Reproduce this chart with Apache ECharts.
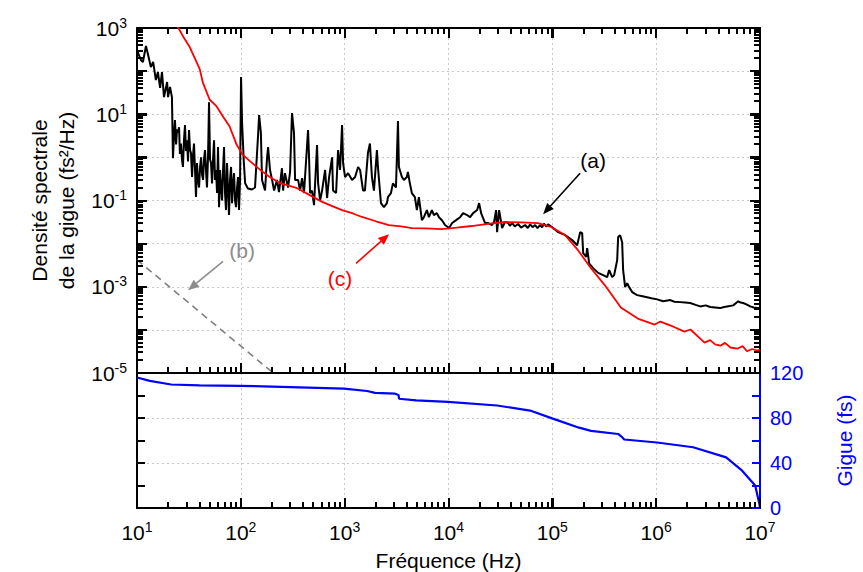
<!DOCTYPE html>
<html><head><meta charset="utf-8">
<script src="https://cdn.jsdelivr.net/npm/echarts@6/dist/echarts.min.js"></script>
<style>html,body{margin:0;padding:0;background:#fff}#c{width:863px;height:572px}</style>
</head><body><div id="c"></div>
<script>
// ---- data ----
const freqRange = [10, 1e7];
const psdRange = [1e-5, 1e3];
const jitterRange = [0, 120];

// (a) measured jitter PSD (black)
const psdMeasured = [
[10,309],[10.45,236],[10.9,181],[11.4,163],[12.2,382],[12.8,236],[13.6,124],[14.3,163],[15.2,62],[15.9,95],[16.7,41],[17.4,95],[18.2,25],[19.5,56],[19.9,25],[20.8,43],[21.7,25],
[22.2,0.96],[22.7,3.0],[23.2,7.3],[23.8,2.0],[24.3,4.5],[24.8,3.7],[25.4,5.0],[25.9,1.2],[26.5,2.1],[27.1,0.9],[27.7,0.6],[28.3,2.4],[29,5.6],[29.6,1.4],[30.3,2.5],[31,0.8],[31.7,4.3],[32.4,1.5],[33.1,1.26],[33.9,0.35],[34.6,1.1],[35.4,2.1],[36.2,0.5],[37,0.12],[37.8,0.74],[38.7,0.3],[39.6,0.2],[40.5,0.6],[41.4,1.0],[42.3,0.4],[43.3,0.3],[44.2,0.9],[45.2,1.48],[46.2,0.5],[47.2,0.2],[48.3,1.0],[49.4,19],[50.5,0.9],[51.6,0.74],[52.8,0.25],[54,0.9],[55.2,2.5],[56.4,0.3],[57.7,0.51],[59,0.15],[60.3,1.73],[61,0.4],[61.7,0.07],[63.1,0.51],[64.5,0.2],[65.9,0.1],[67.4,0.5],[68.9,1.73],[70.4,0.15],[72,0.06],[73.6,0.74],[75.2,0.2],[76.9,0.046],[78.7,0.3],[80.5,0.6],[82.3,0.087],[84.1,0.25],[86,0.43],[88,0.1],[89.9,0.07],[92,0.2],[94,0.35],[96.1,0.06],[98.3,0.3],
[100.5,73],[102.8,6.3],[107,0.74],[110,0.25],[117,0.19],[128,0.18],[137,0.2],[147,3.7],[150,9.6],[156,3.7],[160,0.3],[171,0.17],[179,1.0],[183,1.73],[191,0.51],[200,0.3],[209,0.17],[223,0.3],[233,0.157],[249,0.56],[255,0.17],[266,0.43],[285,0.2],[298,0.46],[311,10.7],[325,3.7],[333,0.3],[356,0.3],[372,0.17],[389,0.33],[406,0.149],[444,4.3],[454,1.0],[464,0.149],[485,0.17],[507,0.078],[542,1.93],[555,0.25],[580,0.1],[606,0.17],[648,0.51],[677,0.114],[708,0.35],[757,1.0],[773,0.17],[827,0.149],[864,1.48],[903,0.51],[944,5.6],[966,0.74],[1009,0.35],[1079,0.43],[1179,0.3],[1260,0.35],[1347,0.6],[1408,0.51],[1504,0.17],[1567,0.17],[1675,1.26],[1751,2.1],[1830,0.35],[1914,0.17],[2045,1.48],[2091,0.6],[2236,0.087],[2389,0.07],[2553,0.087],[2611,0.12],[2791,0.149],[2917,0.25],[3119,0.2],[3261,7.0],[3330,0.6],[3559,0.35],[3720,0.3],[3972,0.35],[4064,0.46],[4246,0.25],[4437,0.149],[4744,0.12],[4961,0.06],[5184,0.12],[5543,0.035],[5796,0.041],[6195,0.06],[6475,0.041],[6921,0.06],[7236,0.046],[7738,0.051],[8089,0.041],[8650,0.035],[9261,0.027],[10130,0.023],[10840,0.03],[11830,0.035],[12940,0.041],[13830,0.051],[15110,0.046],[16150,0.041],[17270,0.051],[18880,0.06],[19720,0.087],[20610,0.051],[21540,0.039],[22520,0.03],[24080,0.03],[26300,0.027],[27490,0.032],[28740,0.06],[29380,0.0185],[30710,0.06],[32830,0.023],[35100,0.032],[37530,0.03],[39000,0.026],[41020,0.03],[43500,0.025],[46800,0.0285],[50000,0.0235],[54700,0.027],[58000,0.023],[61100,0.028],[64500,0.024],[68300,0.027],[72000,0.023],[76000,0.027],[79800,0.024],[83000,0.029],[87100,0.025],[91000,0.028],[95300,0.026],[101800,0.023],[113800,0.0185],[132900,0.0157],[155200,0.0121],[173400,0.0092],[185400,0.0185],[193800,0.0175],[198200,0.006],[211800,0.0049],[216500,0.0079],[226200,0.0035],[247200,0.0027],[276100,0.0021],[308500,0.00186],[337300,0.00167],[352500,0.00243],[376800,0.00167],[393900,0.00186],[421100,0.0041],[430400,0.0142],[449800,0.0157],[470200,0.0108],[480700,0.00243],[502400,0.00098],[525400,0.00121],[549500,0.00098],[587500,0.00075],[620000,0.00069],[656400,0.00064],[720000,0.00061],[819000,0.00057],[900000,0.00054],[1.023e6,0.00051],[1.169e6,0.00046],[1.365e6,0.00049],[1.5e6,0.00045],[1.704e6,0.00044],[1.9e6,0.00043],[2.128e6,0.00042],[2.4e6,0.00038],[2.655e6,0.00035],[3.0e6,0.00037],[3.313e6,0.00034],[3.7e6,0.00033],[4.14e6,0.00032],[4.5e6,0.00034],[4.83e6,0.00035],[5.52e6,0.00037],[6.17e6,0.00046],[6.5e6,0.00043],[6.89e6,0.00042],[7.4e6,0.00039],[8.05e6,0.00035],[8.7e6,0.00033],[9.4e6,0.00032],[1e7,0.00032]
];

// (b) reference line (grey dashed)
const psdReference = [[10,4.2e-3],[205,1e-5]];

// (c) second PSD (red)
const psdSecond = [
[24.5,1100],[28,620],[32.2,361],[36,200],[40.2,111],[43,55],[50,22],[58.5,15.2],[68,8.5],[78,5.2],[91,1.98],[104,1.16],[120,0.85],[141,0.61],[165,0.45],[188,0.355],[235,0.257],[342,0.197],[456,0.135],[607,0.093],[780,0.072],[944,0.06],[1200,0.05],[1468,0.0415],[2000,0.033],[2667,0.027],[3500,0.025],[4430,0.023],[6000,0.0225],[8590,0.0218],[12000,0.0235],[16700,0.0256],[25000,0.029],[35300,0.0317],[50000,0.031],[73100,0.030],[97300,0.0243],[132700,0.0158],[176700,0.00705],[235500,0.00268],[321000,0.00108],[457000,3.3e-4],[665000,1.83e-4],[968000,1.33e-4],[1.1e6,1.56e-4],[1.38e6,1.26e-4],[1.87e6,9.1e-5],[2.14e6,1.02e-4],[2.92e6,5.06e-5],[3.3e6,5.8e-5],[3.7e6,4.6e-5],[4.15e6,4.3e-5],[4.6e6,5.0e-5],[5.2e6,3.9e-5],[6.04e6,3.66e-5],[6.8e6,4.2e-5],[7.5e6,3.2e-5],[8.4e6,3.6e-5],[9.4e6,3.3e-5],[1e7,3.5e-5]
];

// integrated jitter (blue)
const jitterIntegrated = [
[10,116],[13.3,113],[21.3,109.8],[40,109],[98,108.6],[300,107.5],[986,106.1],[1644,104],[1963,102.3],[3060,101.6],[3300,100.5],[3345,97.1],[4870,95.7],[9900,94.3],[29400,91.1],[61000,86.6],[99500,79.7],[181000,71.4],[236000,68.6],[430000,65.8],[470000,63],[492000,60.9],[1.02e6,58.2],[2.27e6,54.0],[4.72e6,45.0],[6.73e6,33.2],[8.99e6,20],[9.83e6,4.3],[1e7,0]
];

const annotations = [
  {text:'(a)', color:'#000000', at:[247000,0.865], from:[185000,0.43], to:[81500,0.048]},
  {text:'(b)', color:'#8c8c8c', at:[103,0.0071], from:[67.4,0.0039], to:[31,8.3e-4]},
  {text:'(c)', color:'#ff0000', at:[903,1.58e-3], from:[1288,3.5e-3], to:[2680,0.0166]}
];

// log-axis tick positions (1..9 x 10^n)
function logTicks(lo, hi){ const out=[]; for(let d=Math.round(Math.log10(lo)); d<=Math.round(Math.log10(hi)); d++) for(let k=1;k<10;k++){ const v=k*Math.pow(10,d); if(v>=lo*0.9999 && v<=hi*1.0001) out.push([v,k===1?1:0]); } return out; }
const freqTickValues = logTicks(freqRange[0], freqRange[1]);
const psdTickValues = logTicks(psdRange[0], psdRange[1]);

// ---- layout ----
const FONT = '"Liberation Sans", Arial, sans-serif';
const L = 137, R = 760, T0 = 28, B0 = 373, B1 = 515;
const W = R - L;
const MAJ = 10, MIN = 6, TW = 2;

const chart = echarts.init(document.getElementById('c'), null, {renderer:'svg'});

function expOf(v){ return Math.round(Math.log10(v)); }
const sciRich = {
  b:{fontSize:21, fontFamily:FONT, color:'#000'},
  s:{fontSize:14, fontFamily:FONT, color:'#000', padding:[0,0,11,0]}
};
const dotted = {show:true, lineStyle:{color:'#c8c8c8', type:[2,3], width:1}};
const blackLine = {show:true, lineStyle:{color:'#000', width:2}};
const tickIn = {show:true, inside:true, length:MAJ, lineStyle:{color:'#000', width:2}};

function xTickRender(sides){
  return function(params, api){
    const cs = params.coordSys;
    const px = Math.round(api.coord([api.value(0), api.value(2)])[0]);
    const len = api.value(1) ? MAJ : MIN;
    const ch = [];
    if (sides.indexOf('b')>=0) ch.push({type:'rect', shape:{x:px-TW/2, y:cs.y+cs.height-len, width:TW, height:len}, style:{fill:'#000'}});
    if (sides.indexOf('t')>=0) ch.push({type:'rect', shape:{x:px-TW/2, y:cs.y, width:TW, height:len}, style:{fill:'#000'}});
    return {type:'group', children:ch};
  };
}
function yTickRender(params, api){
  const cs = params.coordSys;
  const py = Math.round(api.coord([api.value(2), api.value(0)])[1]);
  const len = api.value(1) ? MAJ : MIN;
  return {type:'group', children:[
    {type:'rect', shape:{x:cs.x, y:py-TW/2, width:len, height:TW}, style:{fill:'#000'}},
    {type:'rect', shape:{x:cs.x+cs.width-len, y:py-TW/2, width:len, height:TW}, style:{fill:'#000'}}
  ]};
}

const option = {
  animation:false,
  backgroundColor:'#fff',
  grid:[
    {left:L, top:T0, width:W, height:B0-T0},
    {left:L, top:B0, width:W, height:B1-B0}
  ],
  xAxis:[
    {gridIndex:0, type:'log', logBase:10, min:freqRange[0], max:freqRange[1], splitNumber:6, position:'bottom',
     axisLine:blackLine, axisTick:tickIn, axisLabel:{show:false}, splitLine:dotted},
    {gridIndex:0, type:'log', logBase:10, min:freqRange[0], max:freqRange[1], splitNumber:6, position:'top',
     axisLine:blackLine, axisTick:tickIn, axisLabel:{show:false}, splitLine:{show:false}},
    {gridIndex:1, type:'log', logBase:10, min:freqRange[0], max:freqRange[1], splitNumber:6, position:'bottom',
     axisLine:blackLine, axisTick:tickIn, splitLine:dotted,
     axisLabel:{show:true, margin:12, formatter:v=>'{b|10}{s|'+expOf(v)+'}', rich:sciRich},
     name:'Fréquence (Hz)', nameLocation:'middle', nameGap:42,
     nameTextStyle:{fontSize:21, fontFamily:FONT, color:'#000'}}
  ],
  yAxis:[
    {gridIndex:0, type:'log', logBase:10, min:psdRange[0], max:psdRange[1], splitNumber:8, position:'left',
     axisLine:blackLine, axisTick:tickIn, splitLine:dotted,
     axisLabel:{show:true, margin:10, formatter:v=>{const e=expOf(v); return Math.abs(e)%2===1 ? '{b|10}{s|'+e+'}' : '';}, rich:sciRich},
     name:'Densité spectrale\nde la gigue (fs²/Hz)', nameLocation:'middle', nameGap:50, nameRotate:90,
     nameTextStyle:{fontSize:21, fontFamily:FONT, color:'#000', lineHeight:27}},
    {gridIndex:0, type:'log', logBase:10, min:psdRange[0], max:psdRange[1], splitNumber:8, position:'right',
     axisLine:blackLine, axisTick:tickIn, axisLabel:{show:false}, splitLine:{show:false}},
    {gridIndex:1, type:'value', min:jitterRange[0], max:jitterRange[1], interval:20, position:'left',
     axisLine:blackLine, axisTick:{show:true, inside:true, length:8, lineStyle:{color:'#000', width:2}},
     axisLabel:{show:false}, splitLine:{show:false}},
    {gridIndex:1, type:'value', min:jitterRange[0], max:jitterRange[1], interval:20, position:'right',
     axisLine:{show:true, lineStyle:{color:'#0000ff', width:2}},
     axisTick:{show:true, inside:true, length:8, lineStyle:{color:'#0000ff', width:2}},
     axisLabel:{show:true, margin:10, fontSize:20, fontFamily:FONT, color:'#0000ff', formatter:v=> v%40===0 ? String(v) : ''},
     splitLine:{show:false},
     name:'Gigue (fs)', nameLocation:'middle', nameGap:74, nameRotate:90,
     nameTextStyle:{fontSize:21, fontFamily:FONT, color:'#0000ff'}},
    {gridIndex:1, type:'value', min:jitterRange[0], max:jitterRange[1], interval:40, position:'left',
     axisLine:{show:false}, axisTick:{show:false}, axisLabel:{show:false}, splitLine:dotted}
  ],
  series:[
    {name:'(b)', type:'line', xAxisIndex:0, yAxisIndex:0, data:psdReference, showSymbol:false, symbol:'none',
     lineStyle:{color:'#808080', width:1.6, type:[7,5]}, z:2},
    {name:'(a)', type:'line', xAxisIndex:0, yAxisIndex:0, data:psdMeasured, showSymbol:false, symbol:'none',
     lineStyle:{color:'#000', width:2}, z:3},
    {name:'(c)', type:'line', xAxisIndex:0, yAxisIndex:0, data:psdSecond, showSymbol:false, symbol:'none',
     lineStyle:{color:'#ff0000', width:1.8}, z:4},
    {name:'Gigue', type:'line', xAxisIndex:2, yAxisIndex:3, data:jitterIntegrated, showSymbol:false, symbol:'none',
     lineStyle:{color:'#0000ff', width:2.2}, z:3},
    // axis tick marks (decoration)
    {type:'custom', xAxisIndex:0, yAxisIndex:0, silent:true, z:10, clip:false,
     data:freqTickValues.map(t=>[t[0], t[1], 1]), renderItem:xTickRender('bt')},
    {type:'custom', xAxisIndex:0, yAxisIndex:0, silent:true, z:10, clip:false,
     data:psdTickValues.map(t=>[t[0], t[1], freqRange[0]]), encode:{x:2, y:0}, renderItem:yTickRender},
    {type:'custom', xAxisIndex:2, yAxisIndex:2, silent:true, z:10, clip:false,
     data:freqTickValues.map(t=>[t[0], t[1], 60]), renderItem:xTickRender('b')}
  ]
};
chart.setOption(option);

// annotations (labels + arrows), placed through the chart's own scales
const g = [];
annotations.forEach(a=>{
  const p = chart.convertToPixel({gridIndex:0}, a.at);
  const f = chart.convertToPixel({gridIndex:0}, a.from);
  const t = chart.convertToPixel({gridIndex:0}, a.to);
  g.push({type:'text', x:p[0], y:p[1], z:60, silent:true,
    style:{text:a.text, fill:a.color, font:'21px '+FONT, align:'center', verticalAlign:'middle'}});
  const dx=t[0]-f[0], dy=t[1]-f[1], len=Math.hypot(dx,dy), ux=dx/len, uy=dy/len;
  const hl=11, hw=4.5;
  const bx=t[0]-ux*hl, by=t[1]-uy*hl;
  g.push({type:'line', z:60, silent:true, shape:{x1:f[0],y1:f[1],x2:bx,y2:by}, style:{stroke:a.color, lineWidth:1.6}});
  g.push({type:'polygon', z:60, silent:true, shape:{points:[[t[0],t[1]],[bx-uy*hw,by+ux*hw],[bx+uy*hw,by-ux*hw]]}, style:{fill:a.color}});
});
chart.setOption({graphic:g});
</script></body></html>
